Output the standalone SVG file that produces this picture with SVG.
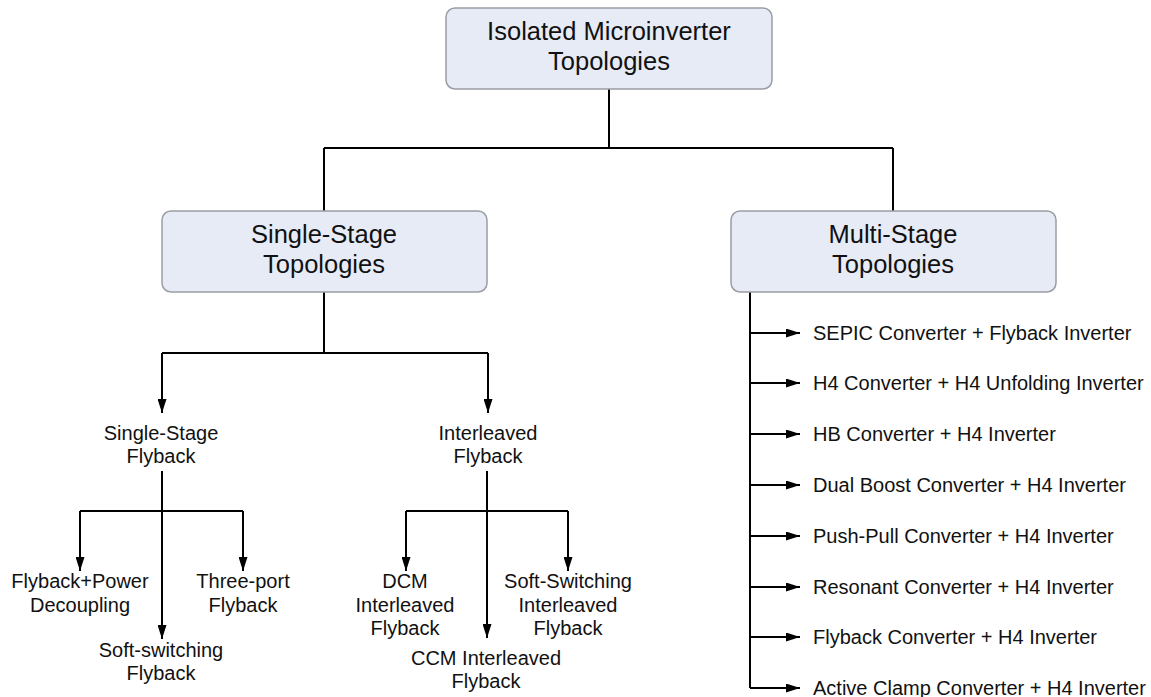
<svg xmlns="http://www.w3.org/2000/svg" width="1151" height="697" viewBox="0 0 1151 697">
  <style>
    .box { fill: #e6ebf6; stroke: #9a9da4; stroke-width: 1.5; }
    .hdr { font-family: "Liberation Sans", Arial, sans-serif; font-size: 25.5px; fill: #111; text-anchor: middle; }
    .lbl { font-family: "Liberation Sans", Arial, sans-serif; font-size: 20px; fill: #111; text-anchor: middle; }
    .item { font-family: "Liberation Sans", Arial, sans-serif; font-size: 20px; fill: #111; }
    .wire { fill: none; stroke: #000; stroke-width: 2; }
    .arr { fill: none; stroke: #000; stroke-width: 2; marker-end: url(#tip); }
  </style>
  <defs>
    <marker id="tip" viewBox="0 0 14 9" refX="14" refY="4.5" markerWidth="14" markerHeight="9" markerUnits="userSpaceOnUse" orient="auto">
      <path d="M0,0 L14,4.5 L0,9 Z" fill="#000"/>
    </marker>
  </defs>
  <rect width="1151" height="697" fill="#fff"/>

  <g id="connectors">
    <!-- root to the two stage groups -->
    <path class="wire" d="M609,89 V148 M324,148 H893 M324,148 V211 M893,148 V211"/>
    <!-- single-stage branches -->
    <path class="wire" d="M324,292 V353 M162,353 H488"/>
    <path class="arr" d="M162,353 V413"/>
    <path class="arr" d="M488,353 V413"/>
    <!-- single-stage flyback children -->
    <path class="wire" d="M162,471 V511 M80,511 H243"/>
    <path class="arr" d="M80,511 V571"/>
    <path class="arr" d="M243,511 V571"/>
    <path class="arr" d="M162,511 V639"/>
    <!-- interleaved flyback children -->
    <path class="wire" d="M487,471 V511 M406,511 H568"/>
    <path class="arr" d="M406,511 V571"/>
    <path class="arr" d="M568,511 V571"/>
    <path class="arr" d="M487,511 V638"/>
    <!-- multi-stage list -->
    <path class="wire" d="M750,292 V688"/>
    <path class="arr" d="M750,333 H800"/>
    <path class="arr" d="M750,383 H800"/>
    <path class="arr" d="M750,434 H800"/>
    <path class="arr" d="M750,485 H800"/>
    <path class="arr" d="M750,536 H800"/>
    <path class="arr" d="M750,587 H800"/>
    <path class="arr" d="M750,637 H800"/>
    <path class="arr" d="M750,688 H800"/>
  </g>

  <g id="root">
    <rect class="box" x="446" y="8" width="326" height="81" rx="9"/>
    <text class="hdr" x="609" y="40">Isolated Microinverter</text>
    <text class="hdr" x="609" y="70">Topologies</text>
  </g>

  <g id="single-stage">
    <rect class="box" x="162" y="211" width="325" height="81" rx="9"/>
    <text class="hdr" x="324" y="243">Single-Stage</text>
    <text class="hdr" x="324" y="273">Topologies</text>
  </g>

  <g id="multi-stage">
    <rect class="box" x="731" y="211" width="325" height="81" rx="9"/>
    <text class="hdr" x="893" y="243">Multi-Stage</text>
    <text class="hdr" x="893" y="273">Topologies</text>
  </g>

  <g id="single-stage-flyback">
    <text class="lbl" x="161" y="440">Single-Stage</text>
    <text class="lbl" x="161" y="463">Flyback</text>
  </g>

  <g id="interleaved-flyback">
    <text class="lbl" x="488" y="440">Interleaved</text>
    <text class="lbl" x="488" y="463">Flyback</text>
  </g>

  <g id="flyback-power-decoupling">
    <text class="lbl" x="80" y="588">Flyback+Power</text>
    <text class="lbl" x="80" y="612">Decoupling</text>
  </g>

  <g id="three-port-flyback">
    <text class="lbl" x="243" y="588">Three-port</text>
    <text class="lbl" x="243" y="612">Flyback</text>
  </g>

  <g id="soft-switching-flyback">
    <text class="lbl" x="161" y="657">Soft-switching</text>
    <text class="lbl" x="161" y="680">Flyback</text>
  </g>

  <g id="dcm-interleaved">
    <text class="lbl" x="405" y="588">DCM</text>
    <text class="lbl" x="405" y="612">Interleaved</text>
    <text class="lbl" x="405" y="635">Flyback</text>
  </g>

  <g id="soft-switching-interleaved">
    <text class="lbl" x="568" y="588">Soft-Switching</text>
    <text class="lbl" x="568" y="612">Interleaved</text>
    <text class="lbl" x="568" y="635">Flyback</text>
  </g>

  <g id="ccm-interleaved">
    <text class="lbl" x="486" y="665">CCM Interleaved</text>
    <text class="lbl" x="486" y="688">Flyback</text>
  </g>

  <g id="multi-stage-items">
    <text class="item" x="813" y="340">SEPIC Converter + Flyback Inverter</text>
    <text class="item" x="813" y="390">H4 Converter + H4 Unfolding Inverter</text>
    <text class="item" x="813" y="441">HB Converter + H4 Inverter</text>
    <text class="item" x="813" y="492">Dual Boost Converter + H4 Inverter</text>
    <text class="item" x="813" y="543">Push-Pull Converter + H4 Inverter</text>
    <text class="item" x="813" y="594">Resonant Converter + H4 Inverter</text>
    <text class="item" x="813" y="644">Flyback Converter + H4 Inverter</text>
    <text class="item" x="813" y="695">Active Clamp Converter + H4 Inverter</text>
  </g>
</svg>
